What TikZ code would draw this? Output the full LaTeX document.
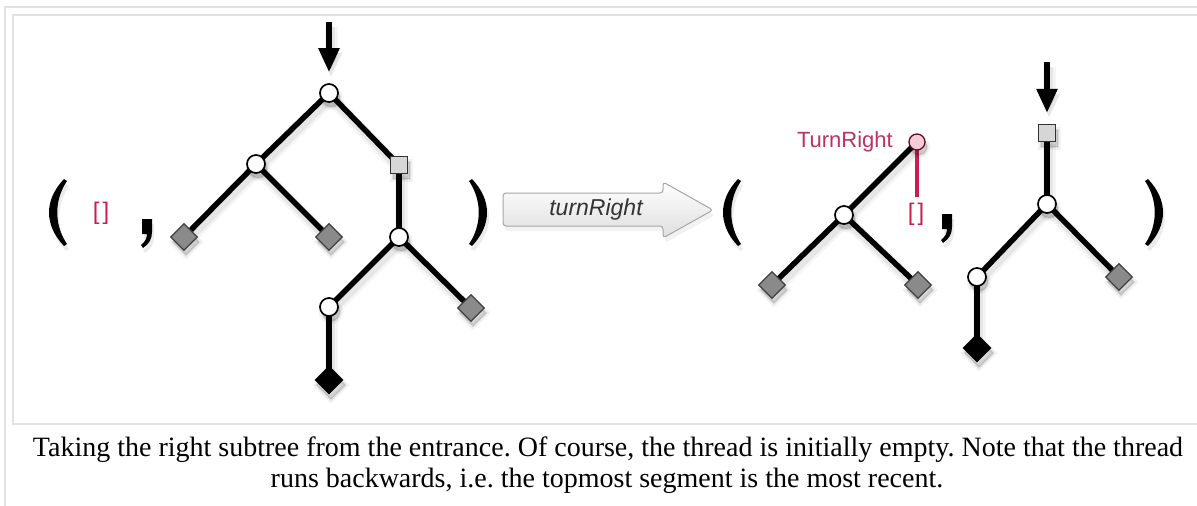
\documentclass[tikz,border=0pt]{standalone}
\usepackage{fontspec}
\setmainfont{Liberation Serif}
\newfontfamily\labelsans{Liberation Sans}
\usetikzlibrary{shapes.geometric,arrows.meta,backgrounds}
\frenchspacing

\definecolor{framegray}{HTML}{E2E2E2}
\definecolor{leafgray}{HTML}{8A8A8A}
\definecolor{boxgray}{HTML}{D6D6D6}
\definecolor{threadred}{HTML}{C81E52}
\definecolor{threadtext}{HTML}{B83562}
\definecolor{crumbpink}{HTML}{F6CCD6}

\tikzset{
  softshade/.style={
    preaction={fill=black, draw=black, line width=6pt, opacity=0.05,
                transform canvas={shift={(2,5)}}},
    preaction={fill=black, draw=black, line width=2pt, opacity=0.09,
                transform canvas={shift={(2,5)}}}},
  edgeshade/.style={
    preaction={draw=black, line width=13pt, opacity=0.04,
                transform canvas={shift={(2,5)}}},
    preaction={draw=black, line width=8pt, opacity=0.06,
                transform canvas={shift={(2,5)}}}},
  circ/.style={circle, draw=black, line width=1.7pt, fill=white,
               minimum size=18pt, inner sep=0pt, softshade},
  sq/.style={rectangle, draw=black!80, line width=1.3pt, fill=boxgray,
             minimum size=17pt, inner sep=0pt, softshade},
  leaf/.style={diamond, draw=black!75, line width=1.3pt, fill=leafgray,
               minimum size=27pt, inner sep=0pt, softshade},
  hole/.style={diamond, fill=black, minimum size=29pt, inner sep=0pt, softshade},
  crumb/.style={circle, draw=black!55!threadred, line width=1.3pt, fill=crumbpink,
                minimum size=16pt, inner sep=0pt, softshade},
  branch/.style={draw=black, line width=5.5pt, edgeshade},
  threadline/.style={draw=threadred, line width=4pt},
  entry/.style={draw=black, line width=5.5pt, edgeshade,
                -{Triangle[width=20pt,length=24pt]}, shorten >=11pt},
  brackets/.style={text=threadred, inner sep=0pt,
                   font=\labelsans\fontsize{24}{24}\selectfont},
  frameline/.style={draw=framegray, line width=1.5pt},
  lparen/.pic={
    \fill[preaction={fill=black, opacity=0.08, transform canvas={shift={(2,5)}}}]
      (0,0) .. controls (-20,21) and (-20,46) .. (0,67) -- (3,65)
      .. controls (-10,46) and (-10,21) .. (3,2) -- cycle;},
  commamark/.pic={
    \fill[preaction={fill=black, opacity=0.08, transform canvas={shift={(2,5)}}}]
      (-5,0) -- (5,0) -- (5,13) .. controls (5,20) and (2,25) .. (-4,29)
      -- (-6,26) .. controls (-2,23) and (0,19) .. (0,15) -- (-5,15) -- cycle;}
}

\begin{document}
\begin{tikzpicture}[x=1pt, y=-1pt]
\useasboundingbox (0,0) rectangle (1197,506);

% page frame
\draw[frameline] (1197,7) -- (5,7) -- (5,506);
\draw[frameline] (1197,15) -- (13,15) -- (13,424) -- (1197,424);

% ---------- left pair: empty thread and the whole tree ----------
\pic at (64,179) {lparen};
\node[brackets] (t0) at (101,213) {[\kern3pt]};
\pic at (147,219) {commamark};

\coordinate (ea) at (329,22);
\node[circ] (a0) at (329,93) {};
\node[circ] (a1) at (256,164) {};
\node[sq]   (a2) at (399,165) {};
\node[leaf] (a3) at (184,237) {};
\node[leaf] (a4) at (329,237) {};
\node[circ] (a5) at (399,237) {};
\node[circ] (a6) at (329,307) {};
\node[leaf] (a7) at (471,308) {};
\node[hole] (a8) at (329,380) {};

\pic[xscale=-1] at (472,179) {lparen};

% ---------- the step ----------
\draw[line width=1pt, draw=black!35, top color=white, bottom color=black!13,
      rounded corners=3pt,
      preaction={fill=black, opacity=0.05, transform canvas={shift={(2,5)}}}]
  (503,193) -- (663,193) -- (663,182) -- (713,210) -- (663,238)
  -- (663,226) -- (503,226) -- cycle;
\node[inner sep=0pt, text=black!80, font=\labelsans\itshape\fontsize{23}{23}\selectfont]
  (op) at (596,210) {turnRight};

% ---------- right pair: thread with one crumb, and the right subtree ----------
\pic at (738,179) {lparen};

\node[crumb] (b0) at (917,142) {};
\node[anchor=east, inner sep=0pt, text=threadtext,
      font=\labelsans\fontsize{22}{22}\selectfont] (b0l) at (893,142) {TurnRight};
\node[circ] (b1) at (844,215) {};
\node[leaf] (b2) at (772,285) {};
\node[leaf] (b3) at (918,285) {};
\node[brackets] (t1) at (916,214) {[\kern3pt]};
\pic at (947,214) {commamark};

\coordinate (ec) at (1047,62);
\node[sq]   (c0) at (1047,133) {};
\node[circ] (c1) at (1047,204) {};
\node[circ] (c2) at (977,277) {};
\node[leaf] (c3) at (1119,277) {};
\node[hole] (c4) at (977,348) {};

\pic[xscale=-1] at (1148,179) {lparen};

% connectors, kept under the nodes
\begin{scope}[on background layer]
  \fill[white] (0,0) rectangle (1197,506);
  \draw[entry] (ea) -- (a0);
  \draw[branch] (a0.center) -- (a1.center);
  \draw[branch] (a0.center) -- (a2.center);
  \draw[branch] (a1.center) -- (a3.center);
  \draw[branch] (a1.center) -- (a4.center);
  \draw[branch] (a2.center) -- (a5.center);
  \draw[branch] (a5.center) -- (a6.center);
  \draw[branch] (a5.center) -- (a7.center);
  \draw[branch] (a6.center) -- (a8.center);

  \draw[branch] (b0.center) -- (b1.center);
  \draw[branch] (b1.center) -- (b2.center);
  \draw[branch] (b1.center) -- (b3.center);
  \draw[threadline] (b0.center) -- ([yshift=6pt]t1.north -| b0.center);

  \draw[entry] (ec) -- (c0);
  \draw[branch] (c0.center) -- (c1.center);
  \draw[branch] (c1.center) -- (c2.center);
  \draw[branch] (c1.center) -- (c3.center);
  \draw[branch] (c2.center) -- (c4.center);
\end{scope}

% caption
\node[anchor=base, inner sep=0pt, font=\fontsize{28}{31}\selectfont] (cap1) at (608,456)
  {Taking the right subtree from the entrance. Of course, the thread is initially empty. Note that the thread};
\node[anchor=base, inner sep=0pt, font=\fontsize{28}{31}\selectfont] (cap2) at (607,487)
  {runs backwards, i.e. the topmost segment is the most recent.};
\end{tikzpicture}
\end{document}
